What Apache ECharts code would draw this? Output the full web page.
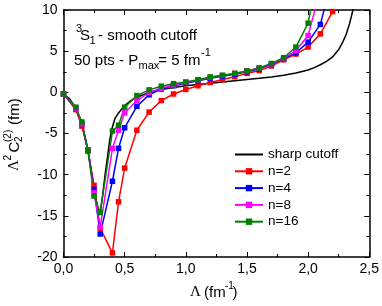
<!DOCTYPE html>
<html>
<head>
<meta charset="utf-8">
<script src="https://cdn.jsdelivr.net/npm/echarts@6/dist/echarts.min.js"></script>
<style>html,body{margin:0;padding:0;background:#fff}#c{width:382px;height:306px}</style>
</head>
<body>
<div id="c"></div>
<script>
// Lambda grid (fm^-1) for the smooth-cutoff series
var lambdaPts = [0, 0.1, 0.15, 0.2, 0.25, 0.3, 0.4, 0.45, 0.5, 0.6, 0.7, 0.8, 0.9, 1.0, 1.1, 1.2, 1.3, 1.4, 1.5, 1.6, 1.7, 1.8, 1.9, 2.0, 2.1, 2.2, 2.3];
var n2  = [-0.2, -2.1, -4.1, -7.1, -11.3, -16.5, -19.5, -13.3, -9.2, -4.6, -2.4, -1.0, -0.2, 0.35, 0.8, 1.2, 1.55, 1.9, 2.3, 2.64, 3.2, 3.95, 4.65, 5.5, 7.1, 9.8, 14.5];
var n4  = [-0.2, -1.9, -3.8, -7.0, -11.8, -17.2, -10.8, -6.8, -4.3, -1.7, -0.3, 0.4, 0.8, 1.1, 1.4, 1.7, 1.95, 2.2, 2.5, 2.85, 3.4, 4.1, 4.8, 6.1, 8.25, 14.0];
var n8  = [-0.2, -1.9, -3.8, -7.0, -12.2, -16.4, -6.8, -4.6, -2.5, -1.0, 0.0, 0.5, 0.9, 1.2, 1.5, 1.8, 2.05, 2.3, 2.6, 2.95, 3.45, 4.15, 5.07, 6.9, 12.5];
var n16 = [-0.2, -1.8, -3.6, -7.1, -12.6, -14.6, -4.7, -4.0, -1.8, -0.4, 0.3, 0.75, 1.05, 1.26, 1.54, 1.87, 2.07, 2.3, 2.6, 2.95, 3.5, 4.2, 5.5, 8.4, 16.0];
// sharp cutoff curve
var sharpX = [0, 0.05, 0.1, 0.15, 0.2, 0.25, 0.28, 0.3, 0.32, 0.34, 0.36, 0.38, 0.4, 0.42, 0.45, 0.5, 0.55, 0.6, 0.7, 0.8, 0.9, 1.0, 1.1, 1.2, 1.3, 1.4, 1.5, 1.6, 1.7, 1.8, 1.9, 2.0, 2.05, 2.1, 2.15, 2.2, 2.25, 2.28, 2.31, 2.34, 2.36, 2.38];
var sharpY = [-0.2, -0.8, -1.9, -3.7, -7.0, -11.8, -14.0, -14.6, -12.5, -10.0, -7.8, -5.6, -4.2, -3.2, -2.5, -1.6, -1.0, -0.6, 0.0, 0.35, 0.6, 0.8, 0.95, 1.1, 1.25, 1.4, 1.55, 1.7, 1.87, 2.07, 2.35, 2.72, 3.0, 3.35, 3.75, 4.3, 5.2, 6.0, 7.0, 8.4, 9.6, 11.0];
var seriesNames = ['sharp cutoff', 'n=2', 'n=4', 'n=8', 'n=16'];
var xTicks = {min: 0, max: 2.5, interval: 0.5};
var yTicks = {min: -20, max: 10, interval: 5};

function pairs(xs, ys) { return ys.map(function (v, i) { return [xs[i], v]; }); }

var FONT = 'Liberation Sans, Arial, sans-serif';
var SERIF = 'Liberation Serif, Times New Roman, serif';

function axisCommon(showLabel, pos) {
  return {
    position: pos,
    axisLine: {show: true, onZero: false, lineStyle: {color: '#000', width: 1.5}},
    axisTick: {show: true, inside: true, length: 5, lineStyle: {color: '#000', width: 1}},
    minorTick: {show: true, splitNumber: 2, length: 3, lineStyle: {color: '#000', width: 1}},
    splitLine: {show: false},
    minorSplitLine: {show: false},
    axisLabel: {show: showLabel, color: '#000', fontSize: 14, fontFamily: FONT}
  };
}

var xBottom = Object.assign(axisCommon(true, 'bottom'), {type: 'value', min: xTicks.min, max: xTicks.max, interval: xTicks.interval});
xBottom.axisLabel.margin = 5;
xBottom.axisLabel.formatter = function (v) { return v.toFixed(1).replace('.', ','); };
var xTop = Object.assign(axisCommon(false, 'top'), {type: 'value', min: xTicks.min, max: xTicks.max, interval: xTicks.interval});
var yLeft = Object.assign(axisCommon(true, 'left'), {type: 'value', min: yTicks.min, max: yTicks.max, interval: yTicks.interval});
yLeft.axisLabel.margin = 6;
var yRight = Object.assign(axisCommon(false, 'right'), {type: 'value', min: yTicks.min, max: yTicks.max, interval: yTicks.interval});

function lineSeries(name, data, color, sym) {
  return {
    name: name, type: 'line', data: data, xAxisIndex: 0, yAxisIndex: 0,
    symbol: sym ? 'rect' : 'none', symbolSize: 5.5, showSymbol: sym,
    lineStyle: {color: color, width: 1.5}, itemStyle: {color: color},
    clip: true, animation: false
  };
}

function txt(x, y, s, size, fam, align) {
  return {type: 'text', x: x, y: y, style: {text: s, fontSize: size, fontFamily: fam || FONT, fill: '#000',
    align: align || 'left', verticalAlign: 'middle', textAlign: align || 'left', textVerticalAlign: 'middle'}};
}

var legendData = seriesNames.map(function (n, i) {
  return i === 0 ? {name: n, itemStyle: {opacity: 0}} : {name: n};
});

var chart = echarts.init(document.getElementById('c'), null, {renderer: 'canvas'});
chart.setOption({
  animation: false,
  backgroundColor: '#fff',
  grid: {left: 63.5, right: 11.3, top: 10, bottom: 49, containLabel: false},
  xAxis: [xBottom, xTop],
  yAxis: [yLeft, yRight],
  legend: {
    data: legendData, orient: 'vertical', left: 229, top: 142,
    itemWidth: 28, itemHeight: 8, itemGap: 1.8,
    textStyle: {fontSize: 13.5, fontFamily: FONT, color: '#000', lineHeight: 15}
  },
  series: [
    lineSeries(seriesNames[0], pairs(sharpX, sharpY), '#000000', false),
    lineSeries(seriesNames[1], pairs(lambdaPts, n2), '#ff0000', true),
    lineSeries(seriesNames[2], pairs(lambdaPts, n4), '#0000ff', true),
    lineSeries(seriesNames[3], pairs(lambdaPts, n8), '#ff00ff', true),
    lineSeries(seriesNames[4], pairs(lambdaPts, n16), '#008000', true)
  ],
  graphic: [
    // annotation line 1: 3S1 - smooth cutoff
    txt(76, 29, '3', 11),
    txt(80, 35.5, 'S', 15),
    txt(89.5, 40.5, '1', 11),
    txt(98, 35.5, '- smooth cutoff', 15),
    // annotation line 2: 50 pts - Pmax = 5 fm-1
    txt(74, 60.5, '50 pts - P', 15),
    txt(138.5, 66, 'max', 11),
    txt(158.3, 60.5, '= 5 fm', 15),
    txt(201, 53, '-1', 11),
    // x axis name
    {type: 'group', x: 190, y: 292.5, children: [
      txt(0, 0, 'Λ', 15, SERIF),
      txt(14, 0, '(fm', 15),
      txt(35, -6, '-1', 10),
      txt(42.5, 0, ')', 15)
    ]},
    // y axis name (rotated)
    {type: 'group', x: 14.5, y: 171, rotation: Math.PI / 2, children: [
      txt(0, 0, 'Λ', 15, SERIF),
      txt(10.5, -6, '2', 10),
      txt(18.5, 0, 'C', 15),
      txt(29, 5, '2', 10),
      txt(29, -6, '(2)', 10),
      txt(46, 0, '(fm)', 15)
    ]}
  ]
});
</script>
</body>
</html>
